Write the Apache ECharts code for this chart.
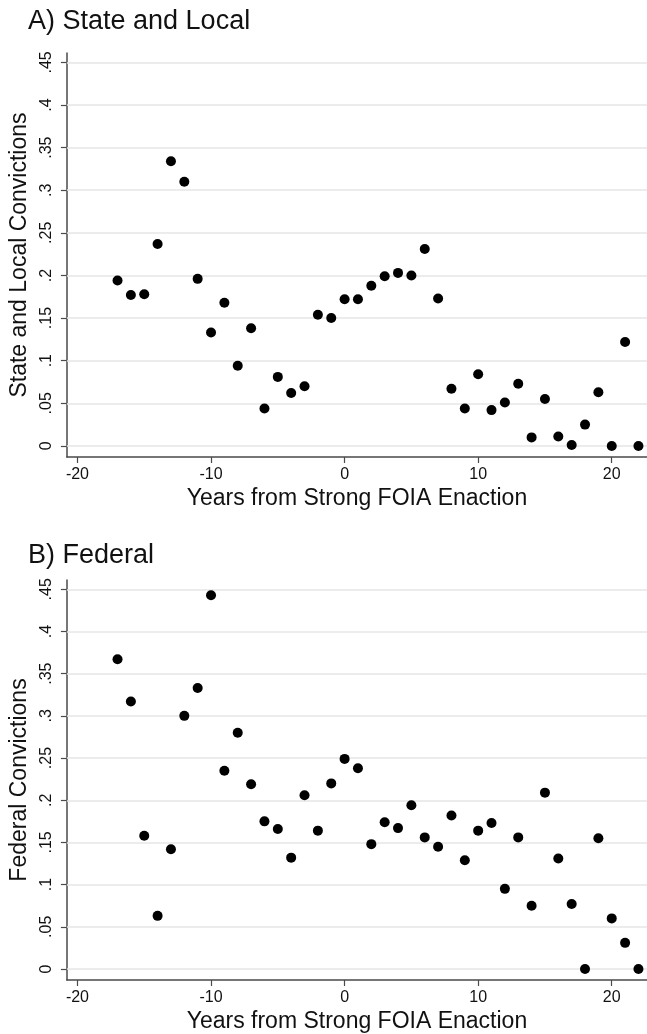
<!DOCTYPE html>
<html>
<head>
<meta charset="utf-8">
<script src="https://cdn.jsdelivr.net/npm/echarts@6/dist/echarts.min.js"></script>
<style>
html,body{margin:0;padding:0;background:#fff;}
#chart{width:647px;height:1034px;}
</style>
</head>
<body>
<div id="chart"></div>
<script>
const years = [-17,-16,-15,-14,-13,-12,-11,-10,-9,-8,-7,-6,-5,-4,-3,-2,-1,0,1,2,3,4,5,6,7,8,9,10,11,12,13,14,15,16,17,18,19,20,21,22];
const stateLocal = [0.194,0.177,0.178,0.237,0.334,0.310,0.196,0.133,0.168,0.094,0.138,0.044,0.081,0.062,0.070,0.154,0.150,0.172,0.172,0.188,0.199,0.203,0.200,0.231,0.173,0.067,0.044,0.084,0.042,0.051,0.073,0.010,0.055,0.011,0.001,0.025,0.063,0.000,0.122,0.000];
const federal = [0.367,0.317,0.158,0.063,0.142,0.300,0.333,0.443,0.235,0.280,0.219,0.175,0.166,0.132,0.206,0.164,0.220,0.249,0.238,0.148,0.174,0.167,0.194,0.156,0.145,0.182,0.129,0.164,0.173,0.095,0.156,0.075,0.209,0.131,0.077,0.000,0.155,0.060,0.031,0.000];
const xTicks = [-20,-10,0,10,20];
const yTicks = [0,0.05,0.1,0.15,0.2,0.25,0.3,0.35,0.4,0.45];
const yTickLabels = ['0','.05','.1','.15','.2','.25','.3','.35','.4','.45'];
const panelTitles = ['A) State and Local','B) Federal'];
const yNames = ['State and Local Convictions','Federal Convictions'];
const xName = 'Years from Strong FOIA Enaction';

const FONT = '"Liberation Sans", Arial, Helvetica, sans-serif';
const AXIS_COLOR = '#4a4a4a';
const GRID_COLOR = '#e6e6e6';

const chart = echarts.init(document.getElementById('chart'), null, {renderer:'canvas'});

function yLabel(v){
  for (let i=0;i<yTicks.length;i++){ if (Math.abs(yTicks[i]-v)<1e-9) return yTickLabels[i]; }
  return '';
}

const grids = [
  {left:60, right:0, top:53, height:404},
  {left:60, right:0, top:580, height:403}
];

const xAxes = grids.map((g,i)=>({
  type:'value', gridIndex:i, min:-20.79, max:22.64,
  name:xName, nameLocation:'middle', nameGap:30,
  nameTextStyle:{fontFamily:FONT, fontSize:23, color:'#111'},
  axisLine:{show:true, onZero:false, lineStyle:{color:AXIS_COLOR, width:1.5}},
  axisTick:{show:true, length:6, lineStyle:{color:AXIS_COLOR, width:1.2}, customValues:xTicks},
  axisLabel:{fontFamily:FONT, fontSize:16, color:'#111', margin:10, customValues:xTicks},
  splitLine:{show:false}
}));

const yAxes = grids.map((g,i)=>({
  type:'value', gridIndex:i, min:-0.013, max:0.461,
  name:yNames[i], nameLocation:'middle', nameGap:32, nameRotate:90,
  nameTextStyle:{fontFamily:FONT, fontSize:23, color:'#111'},
  axisLine:{show:true, onZero:false, lineStyle:{color:AXIS_COLOR, width:1.5}},
  axisTick:{show:true, length:6, lineStyle:{color:AXIS_COLOR, width:1.2}, customValues:yTicks},
  axisLabel:{fontFamily:FONT, fontSize:16, color:'#111', margin:12, rotate:90, customValues:yTicks, formatter:yLabel},
  splitLine:{show:false}
}));

function makeSeries(vals, i){
  return {
    type:'scatter', xAxisIndex:i, yAxisIndex:i, z:10,
    symbol:'circle', symbolSize:10,
    itemStyle:{color:'#000', opacity:1},
    data: years.map((x,k)=>[x, vals[k]]),
    markLine:{
      silent:true, symbol:['none','none'], label:{show:false},
      lineStyle:{color:GRID_COLOR, width:1.5, type:'solid'},
      animation:false,
      data: yTicks.map(v=>({yAxis:v}))
    }
  };
}

chart.setOption({
  animation:false,
  backgroundColor:'#fff',
  title:[
    {text:panelTitles[0], left:23, top:3, textStyle:{fontFamily:FONT, fontSize:27, fontWeight:'normal', color:'#111'}},
    {text:panelTitles[1], left:23, top:537, textStyle:{fontFamily:FONT, fontSize:27, fontWeight:'normal', color:'#111'}}
  ],
  grid:grids,
  xAxis:xAxes,
  yAxis:yAxes,
  series:[makeSeries(stateLocal,0), makeSeries(federal,1)]
});
</script>
</body>
</html>
